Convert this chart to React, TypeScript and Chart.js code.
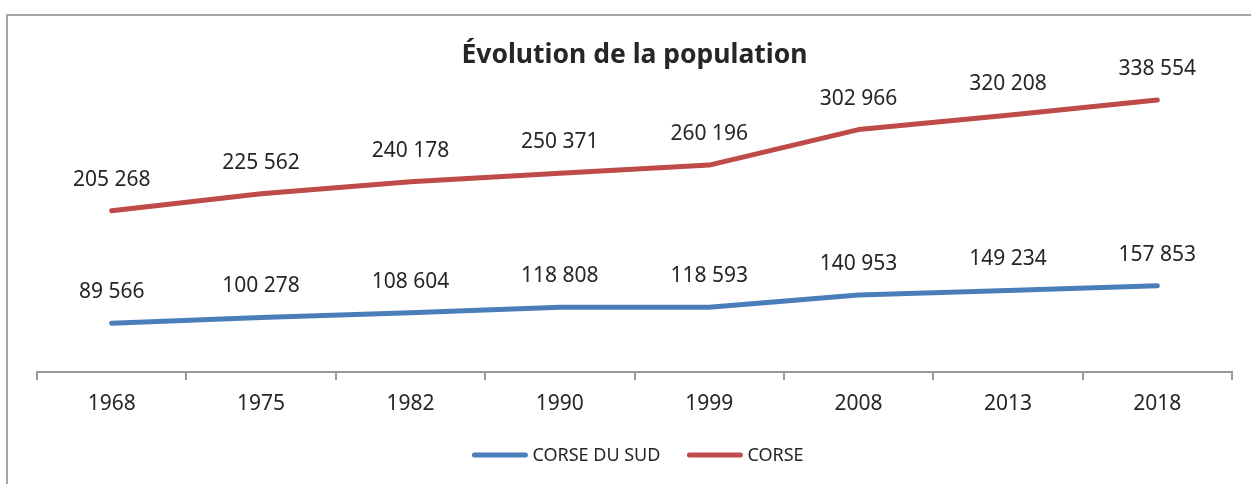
import React, { useEffect, useRef } from "react";
import { Chart, registerables } from "chart.js";

Chart.register(...registerables);

const years = ["1968", "1975", "1982", "1990", "1999", "2008", "2013", "2018"];
const corseDuSud = [89566, 100278, 108604, 118808, 118593, 140953, 149234, 157853];
const corse = [205268, 225562, 240178, 250371, 260196, 302966, 320208, 338554];
const seriesNames = ["CORSE DU SUD", "CORSE"];
const seriesColors = ["#4A7EBB", "#BE4B48"];
const titleText = "Évolution de la population";

const FONT = "'Noto Sans', 'Open Sans', sans-serif";
const TEXT_COLOR = "#262626";

const fmt = (v: number) => {
  const s = String(Math.round(v));
  return s.replace(/\B(?=(\d{3})+(?!\d))/g, " ");
};

const decorPlugin = {
  id: "decor",
  beforeDraw(chart: any) {
    const ctx = chart.ctx;
    ctx.save();
    // frame
    ctx.strokeStyle = "#a6a6a6";
    ctx.lineWidth = 2;
    ctx.beginPath();
    ctx.moveTo(7, chart.height + 5);
    ctx.lineTo(7, 15);
    ctx.lineTo(chart.width + 5, 15);
    ctx.stroke();
    // title
    ctx.fillStyle = TEXT_COLOR;
    ctx.font = `bold 26.5px ${FONT}`;
    ctx.textAlign = "center";
    ctx.textBaseline = "alphabetic";
    ctx.fillText(titleText, 634.5, 63);
    ctx.restore();
  },
  afterDatasetsDraw(chart: any) {
    const ctx = chart.ctx;
    ctx.save();
    // data labels
    ctx.fillStyle = TEXT_COLOR;
    ctx.font = `21px ${FONT}`;
    ctx.textAlign = "center";
    ctx.textBaseline = "alphabetic";
    chart.data.datasets.forEach((ds: any, di: number) => {
      const meta = chart.getDatasetMeta(di);
      meta.data.forEach((pt: any, i: number) => {
        ctx.fillText(fmt(ds.data[i]), pt.x, pt.y - 25);
      });
    });
    // legend
    ctx.font = `18px ${FONT}`;
    const swatch = 55;
    const gapSw = 5;
    const gapItem = 27;
    const items = chart.data.datasets.map((ds: any) => ({
      label: ds.label,
      color: ds.borderColor,
      w: ctx.measureText(ds.label).width,
    }));
    let total = 0;
    items.forEach((it: any, i: number) => {
      total += swatch + gapSw + it.w + (i < items.length - 1 ? gapItem : 0);
    });
    let x = 638 - total / 2;
    const ly = 455;
    items.forEach((it: any) => {
      ctx.strokeStyle = it.color;
      ctx.lineWidth = 5;
      ctx.lineCap = "round";
      ctx.beginPath();
      ctx.moveTo(x + 2, ly);
      ctx.lineTo(x + swatch - 2, ly);
      ctx.stroke();
      ctx.fillStyle = TEXT_COLOR;
      ctx.textAlign = "left";
      ctx.textBaseline = "alphabetic";
      ctx.fillText(it.label, x + swatch + gapSw, ly + 6);
      x += swatch + gapSw + it.w + gapItem;
    });
    ctx.restore();
  },
};

export default function App() {
  const ref = useRef<HTMLCanvasElement | null>(null);
  useEffect(() => {
    if (!ref.current) return;
    const chart = new Chart(ref.current, {
      type: "line",
      data: {
        labels: years,
        datasets: [
          {
            label: seriesNames[0],
            data: corseDuSud,
            borderColor: seriesColors[0],
            backgroundColor: seriesColors[0],
            borderWidth: 5,
            pointRadius: 0,
            borderCapStyle: "round",
            borderJoinStyle: "round",
            tension: 0,
            yAxisID: "y1",
          },
          {
            label: seriesNames[1],
            data: corse,
            borderColor: seriesColors[1],
            backgroundColor: seriesColors[1],
            borderWidth: 5,
            pointRadius: 0,
            borderCapStyle: "round",
            borderJoinStyle: "round",
            tension: 0,
            yAxisID: "y",
          },
        ],
      },
      options: {
        responsive: false,
        animation: false,
        layout: { padding: { left: 37, right: 19, top: 92, bottom: 0 } },
        plugins: {
          legend: { display: false },
          title: { display: false },
          tooltip: { enabled: false },
        },
        scales: {
          x: {
            offset: true,
            grid: {
              offset: true,
              drawOnChartArea: false,
              drawTicks: true,
              tickLength: 8,
              color: "#999999",
              lineWidth: 2,
            },
            border: { display: true, color: "#999999", width: 2 },
            ticks: {
              color: TEXT_COLOR,
              font: { family: FONT, size: 21 },
              padding: 11,
              maxRotation: 0,
            },
            afterFit: (scale: any) => {
              scale.height = 112;
            },
          },
          y: { display: false, min: 11000, max: 348200 },
          y1: { display: false, min: 1100, max: 509600 },
        },
      },
      plugins: [decorPlugin],
    });
    return () => chart.destroy();
  }, []);
  return (
    <div style={{ position: "fixed", left: 0, top: 0, width: 1251, height: 484, background: "#fff" }}>
      <canvas ref={ref} width={1251} height={484} style={{ display: "block" }} />
    </div>
  );
}
